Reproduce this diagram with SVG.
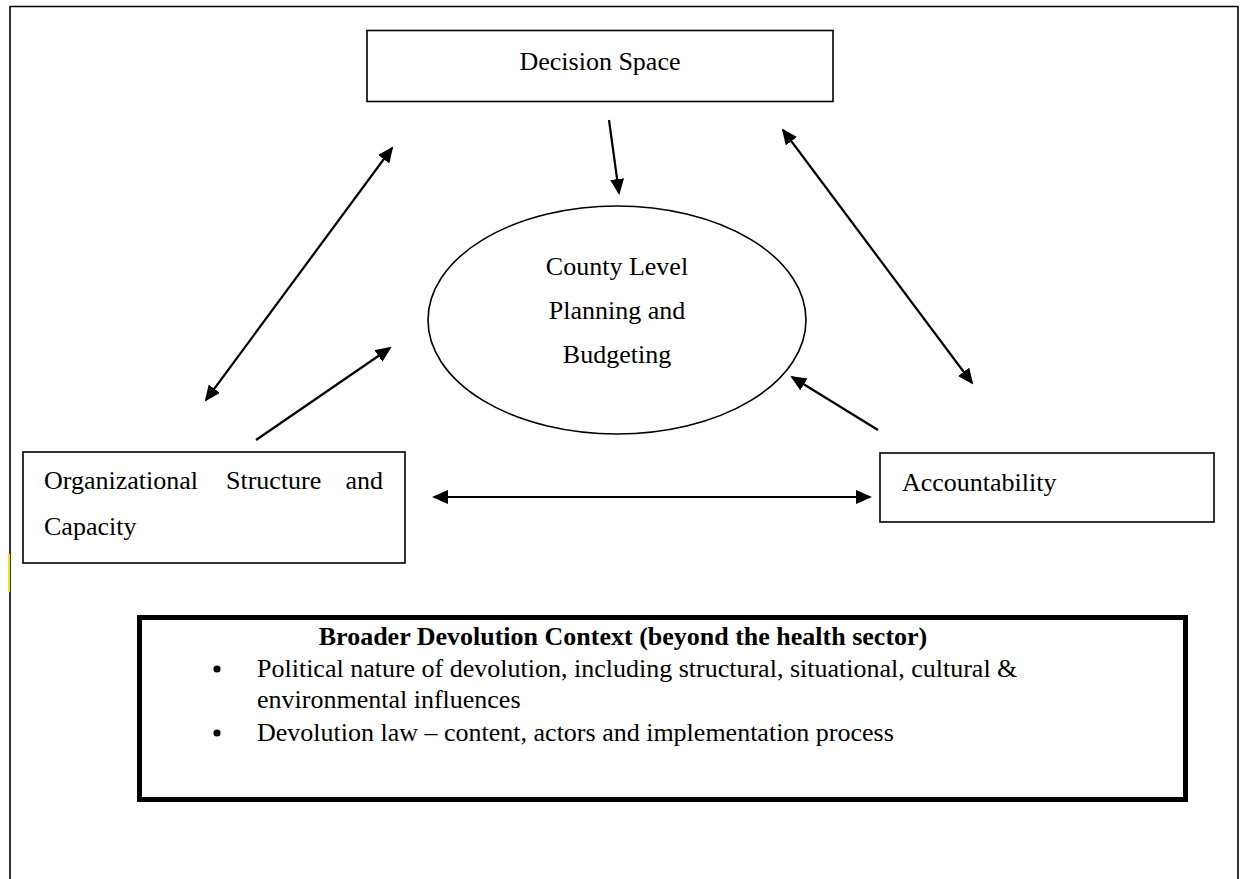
<svg xmlns="http://www.w3.org/2000/svg" width="1243" height="879" viewBox="0 0 1243 879">
  <style>
    .frame { fill: none; stroke: #000; stroke-width: 1.6; }
    .box { fill: #fff; stroke: #000; stroke-width: 1.6; }
    .context { fill: #fff; stroke: #000; stroke-width: 5; }
    .label { font-family: "Liberation Serif", "Times New Roman", serif; font-size: 26px; fill: #000; }
    .bold { font-weight: bold; }
    .mid { text-anchor: middle; }
    .end { text-anchor: end; }
    .conn { stroke: #000; stroke-width: 2.2; fill: none; }
    .one { marker-end: url(#head); }
    .two { marker-start: url(#head); marker-end: url(#head); }
  </style>
  <defs>
    <marker id="head" viewBox="0 0 16 14" refX="14" refY="7" markerWidth="16" markerHeight="14" markerUnits="userSpaceOnUse" orient="auto-start-reverse">
      <path d="M0,0 L16,7 L0,14 z" fill="#000"/>
    </marker>
  </defs>

  <rect width="1243" height="879" fill="#fff"/>

  <!-- page frame, open at the bottom -->
  <path class="frame" d="M10,885 V6.5 H1238 V885"/>
  <rect x="8" y="554" width="2" height="38" fill="#f5e800"/>

  <g id="decision-space">
    <rect class="box" x="367" y="30.5" width="466" height="71"/>
    <text class="label mid" x="600" y="70">Decision Space</text>
  </g>

  <g id="county-planning">
    <ellipse class="box" cx="617" cy="320" rx="189" ry="114"/>
    <text class="label mid" x="617" y="275">County Level</text>
    <text class="label mid" x="617" y="319">Planning and</text>
    <text class="label mid" x="617" y="363">Budgeting</text>
  </g>

  <g id="organizational-structure">
    <rect class="box" x="23" y="452" width="382" height="111"/>
    <text class="label" x="44" y="489">Organizational</text>
    <text class="label" x="226" y="489">Structure</text>
    <text class="label end" x="383" y="489">and</text>
    <text class="label" x="44" y="535">Capacity</text>
  </g>

  <g id="accountability">
    <rect class="box" x="880" y="453" width="334" height="69"/>
    <text class="label" x="902" y="491">Accountability</text>
  </g>

  <g id="devolution-context">
    <rect class="context" x="139.5" y="617.5" width="1046" height="182"/>
    <text class="label bold mid" x="623" y="645">Broader Devolution Context (beyond the health sector)</text>
    <circle cx="217" cy="669" r="3.6" fill="#000"/>
    <text class="label" x="257" y="677">Political nature of devolution, including structural, situational, cultural &amp;</text>
    <text class="label" x="257" y="708">environmental influences</text>
    <circle cx="217" cy="733" r="3.6" fill="#000"/>
    <text class="label" x="257" y="741">Devolution law – content, actors and implementation process</text>
  </g>

  <g id="connectors">
    <line class="conn one" x1="609" y1="120" x2="619" y2="193"/>
    <line class="conn two" x1="392" y1="148" x2="206" y2="400"/>
    <line class="conn two" x1="783" y1="130" x2="972" y2="383"/>
    <line class="conn one" x1="256" y1="440" x2="390" y2="348"/>
    <line class="conn one" x1="878" y1="430" x2="792" y2="377"/>
    <line class="conn two" x1="434" y1="497" x2="870" y2="497"/>
  </g>
</svg>
